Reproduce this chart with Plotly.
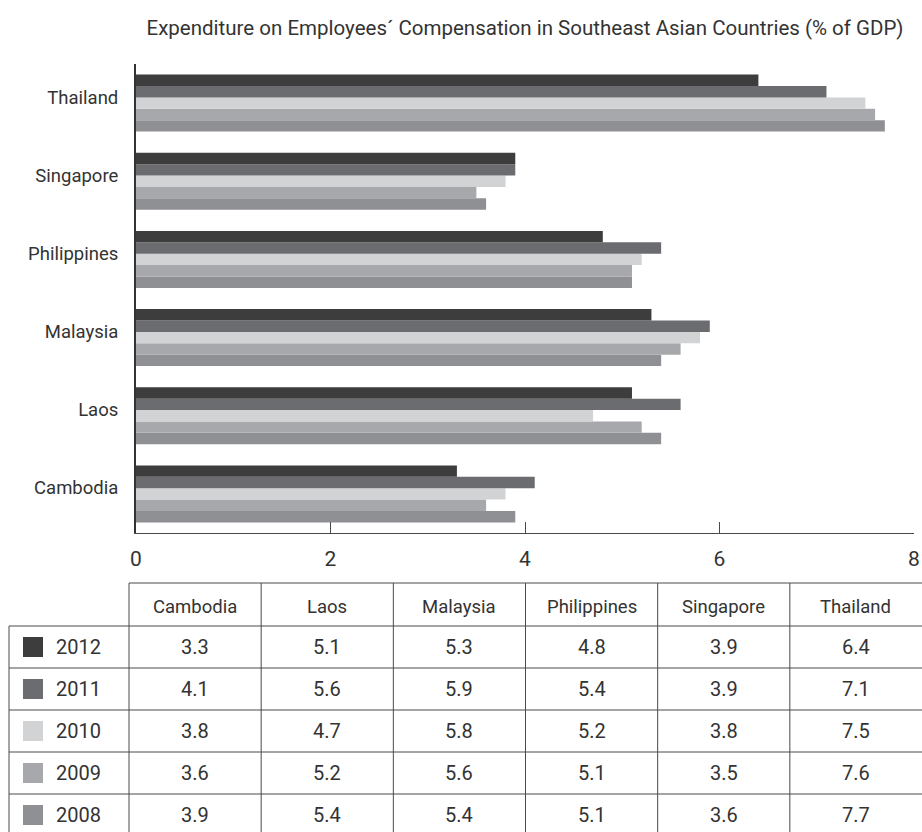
import plotly.graph_objects as go

countries = ["Cambodia", "Laos", "Malaysia", "Philippines", "Singapore", "Thailand"]
years = ["2012", "2011", "2010", "2009", "2008"]
values = {
    "2012": [3.3, 5.1, 5.3, 4.8, 3.9, 6.4],
    "2011": [4.1, 5.6, 5.9, 5.4, 3.9, 7.1],
    "2010": [3.8, 4.7, 5.8, 5.2, 3.8, 7.5],
    "2009": [3.6, 5.2, 5.6, 5.1, 3.5, 7.6],
    "2008": [3.9, 5.4, 5.4, 5.1, 3.6, 7.7],
}
colors = {
    "2012": "#3d3d3d",
    "2011": "#6b6c70",
    "2010": "#d2d3d5",
    "2009": "#a7a8ab",
    "2008": "#8f9094",
}
x_ticks = [0, 2, 4, 6, 8]

FONT = "Roboto, Liberation Sans, sans-serif"
TXT = "#333333"
LINE = "#4a4a4a"

W, H = 922, 832
L, R, T, B = 136, 8, 64, 299


def px(x):
    return (x - L) / (W - L - R)


def py(y):
    return (H - B - y) / (H - T - B)


fig = go.Figure()
# first trace is drawn lowest in each group
for yr in reversed(years):
    fig.add_trace(go.Bar(
        y=countries, x=values[yr], name=yr, orientation="h",
        marker=dict(color=colors[yr], line=dict(width=0)),
        showlegend=False,
    ))

shapes = []
annotations = []

# data table under the chart
col0_left, col0_right = 9, 129
col_w = (W - col0_right) / len(countries)
head_top, head_bot = 583, 626
row_h = 42

shapes.append(dict(type="line", xref="paper", yref="paper",
                   x0=px(col0_right), x1=px(W), y0=py(head_top), y1=py(head_top),
                   line=dict(color=LINE, width=1)))
for i in range(len(years)):
    yy = head_bot + i * row_h
    shapes.append(dict(type="line", xref="paper", yref="paper",
                       x0=px(col0_left), x1=px(W), y0=py(yy), y1=py(yy),
                       line=dict(color=LINE, width=1)))
shapes.append(dict(type="line", xref="paper", yref="paper",
                   x0=px(col0_left), x1=px(col0_left), y0=py(head_bot), y1=py(H),
                   line=dict(color=LINE, width=1)))
for k in range(len(countries)):
    xx = col0_right + k * col_w
    shapes.append(dict(type="line", xref="paper", yref="paper",
                       x0=px(xx), x1=px(xx), y0=py(head_top), y1=py(H),
                       line=dict(color=LINE, width=1)))

for k, c in enumerate(countries):
    annotations.append(dict(text=c, xref="paper", yref="paper",
                            x=px(col0_right + (k + 0.5) * col_w),
                            y=py((head_top + head_bot) / 2 + 2),
                            xanchor="center", yanchor="middle", showarrow=False,
                            font=dict(family=FONT, size=18.5, color=TXT)))

for i, yr in enumerate(years):
    cy = head_bot + (i + 0.5) * row_h
    shapes.append(dict(type="rect", xref="paper", yref="paper",
                       x0=px(23), x1=px(43), y0=py(cy - 10), y1=py(cy + 10),
                       fillcolor=colors[yr], line=dict(width=0)))
    annotations.append(dict(text=yr, xref="paper", yref="paper",
                            x=px(54), y=py(cy), xanchor="left", yanchor="middle",
                            showarrow=False,
                            font=dict(family=FONT, size=20, color=TXT)))
    for k, v in enumerate(values[yr]):
        annotations.append(dict(text=f"{v:.1f}", xref="paper", yref="paper",
                                x=px(col0_right + (k + 0.5) * col_w), y=py(cy),
                                xanchor="center", yanchor="middle", showarrow=False,
                                font=dict(family=FONT, size=20, color=TXT)))

fig.update_layout(
    width=W, height=H,
    margin=dict(l=L, r=R, t=T, b=B, autoexpand=False),
    barmode="group", bargap=0.27, bargroupgap=0,
    plot_bgcolor="white", paper_bgcolor="white",
    title=dict(text="Expenditure on Employees\u00b4 Compensation in Southeast Asian Countries (% of GDP)",
               x=525 / W, xref="container", xanchor="center",
               y=1 - 28 / H, yanchor="middle",
               font=dict(family=FONT, size=20.5, color=TXT)),
    font=dict(family=FONT, color=TXT),
    shapes=shapes, annotations=annotations,
)
fig.update_xaxes(range=[0, 8], tickvals=x_ticks, showgrid=False, zeroline=False,
                 showline=True, linecolor=LINE, linewidth=1,
                 ticks="inside", ticklen=11, tickcolor=LINE,
                 ticklabelstandoff=7, ticklabeloverflow="allow",
                 tickfont=dict(family=FONT, size=21, color=TXT))
fig.update_yaxes(showgrid=False, zeroline=False, showline=True,
                 linecolor="#333333", linewidth=2, ticks="",
                 ticklabelstandoff=12, ticklabelshift=-6,
                 tickfont=dict(family=FONT, size=18.5, color=TXT))

# drop the page's default body margin so the figure sits at the window origin
fig.write_html("out.html", config={"displayModeBar": False},
               post_script="document.body.style.margin='0';")
